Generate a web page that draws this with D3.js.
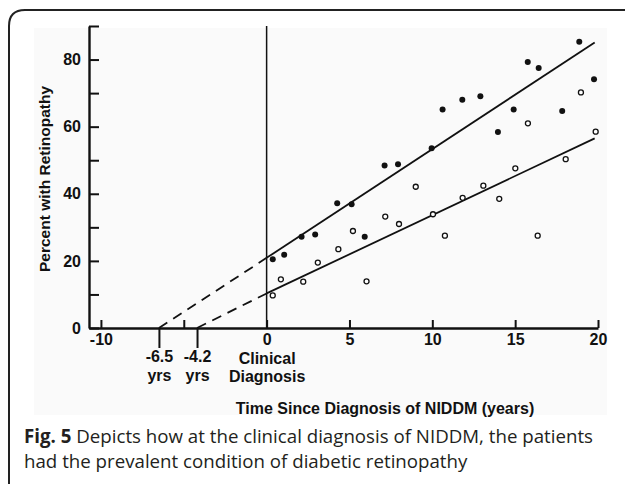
<!DOCTYPE html>
<html>
<head>
<meta charset="utf-8">
<script src="https://cdn.jsdelivr.net/npm/d3@7"></script>
<style>
  body { margin: 0; background: #fff; }
  svg { display: block; }
  .axis text, .title { font-family: "Liberation Sans", Arial, sans-serif; font-weight: bold; font-size: 16px; fill: #111; }
  .axis path, .axis line { stroke: #111; }
  .caption { font-family: "Open Sans", "Noto Sans", sans-serif; font-size: 18.7px; fill: #231f20; }
</style>
</head>
<body>
<div id="chart"></div>
<script>
// years since diagnosis / percent with retinopathy
const filledYears = [0.37, 1.06, 2.11, 2.93, 4.26, 5.13, 5.92, 7.12, 7.93, 9.96,
  10.62, 11.81, 12.90, 13.96, 14.91, 15.76, 16.42, 17.84, 18.87, 19.76];
const filledPct = [20.5, 21.8, 27.2, 27.9, 37.2, 36.9, 27.2, 48.4, 48.8, 53.6,
  65.1, 68.0, 69.1, 58.4, 65.1, 79.3, 77.5, 64.7, 85.3, 74.1];

const openYears = [0.37, 0.86, 2.21, 3.09, 4.33, 5.21, 6.03, 7.16, 7.99, 9.0, 10.04,
  10.76, 11.83, 13.08, 14.04, 15.01, 15.77, 16.36, 18.05, 18.97, 19.86];
const openPct = [9.7, 14.5, 13.8, 19.5, 23.5, 28.9, 13.9, 33.2, 31.0, 42.1, 33.9,
  27.5, 38.8, 42.4, 38.5, 47.6, 61.0, 27.5, 50.3, 70.2, 58.5];

// fitted lines: value at diagnosis (year 0) and at year ~19.8
const fitYears = [0, 19.8];
const filledFit = [20.9, 85.1];
const openFit = [10.3, 56.5];

// extrapolated onset (percent = 0)
const onsetYears = [-6.5, -4.2];
const onsetLabels = ["-6.5", "-4.2"];

const xTicks = [-10, -5, 0, 5, 10, 15, 20];
const yTicks = [0, 10, 20, 30, 40, 50, 60, 70, 80, 90];

const width = 625, height = 484;

const svg = d3.select("#chart").append("svg")
  .attr("width", width)
  .attr("height", height);

// card frame (cropped on the right and bottom)
svg.append("path")
  .attr("d", "M9,486 V26 Q9,10 25,10 H627")
  .attr("fill", "none")
  .attr("stroke", "#222")
  .attr("stroke-width", 2);

// faint background of the scanned figure
svg.append("rect")
  .attr("x", 34).attr("y", 28)
  .attr("width", 573).attr("height", 387)
  .attr("fill", "#fafafa");

const x = d3.scaleLinear().domain([-10.72, 20]).range([89, 598]);
const y = d3.scaleLinear().domain([0, 90]).range([328, 26]);

// y axis, ticks pointing inward
svg.append("g")
  .attr("class", "axis")
  .attr("transform", `translate(${x(-10.72)},0)`)
  .call(d3.axisLeft(y)
    .tickValues(yTicks)
    .tickSizeInner(-10)
    .tickSizeOuter(0)
    .tickPadding(8)
    .tickFormat(d => (d % 20 === 0 && d < 90) ? d : ""))
  .call(g => g.select(".domain").attr("stroke-width", 2.4))
  .call(g => g.selectAll(".tick line").attr("stroke-width", 2));

// x axis, ticks pointing up
const xAxis = svg.append("g")
  .attr("class", "axis")
  .attr("transform", `translate(0,${y(0)})`)
  .call(d3.axisBottom(x)
    .tickValues(xTicks)
    .tickSizeInner(-8)
    .tickSizeOuter(0)
    .tickPadding(6)
    .tickFormat(d => d === -5 ? "" : d))
  .call(g => g.select(".domain").attr("stroke-width", 2.4))
  .call(g => g.selectAll(".tick line").attr("stroke-width", 2));

// "Clinical Diagnosis" under the zero label
xAxis.selectAll(".tick text")
  .filter(d => d === 0)
  .call(t => {
    t.append("tspan").attr("x", 0).attr("dy", "1.15em").text("Clinical");
    t.append("tspan").attr("x", 0).attr("dy", "1.15em").text("Diagnosis");
  });

// onset ticks pointing down, with "yrs"
svg.append("g")
  .attr("class", "axis")
  .attr("transform", `translate(0,${y(0)})`)
  .call(d3.axisBottom(x)
    .tickValues(onsetYears)
    .tickSizeInner(20)
    .tickSizeOuter(0)
    .tickPadding(3)
    .tickFormat((d, i) => onsetLabels[i]))
  .call(g => g.select(".domain").remove())
  .call(g => g.selectAll(".tick line").attr("stroke-width", 2))
  .call(g => g.selectAll(".tick text")
    .append("tspan").attr("x", 0).attr("dy", "1.15em").text("yrs"));

// vertical line at diagnosis
svg.append("line")
  .attr("x1", x(0)).attr("x2", x(0))
  .attr("y1", y(90)).attr("y2", y(0))
  .attr("stroke", "#111")
  .attr("stroke-width", 1.5);

// axis titles
svg.append("text")
  .attr("class", "title")
  .attr("transform", `translate(50,${(y(0) + y(90)) / 2 + 2}) rotate(-90)`)
  .attr("text-anchor", "middle")
  .style("font-size", "15.5px")
  .text("Percent with Retinopathy");

svg.append("text")
  .attr("class", "title")
  .attr("x", 385)
  .attr("y", 414)
  .attr("text-anchor", "middle")
  .text("Time Since Diagnosis of NIDDM (years)");

// fitted lines
const line = d3.line().x(d => x(d[0])).y(d => y(d[1]));

[filledFit, openFit].forEach((fit, i) => {
  svg.append("path")
    .attr("d", line([[fitYears[0], fit[0]], [fitYears[1], fit[1]]]))
    .attr("fill", "none")
    .attr("stroke", "#111")
    .attr("stroke-width", 1.8);
  // dashed extrapolation back to onset
  svg.append("path")
    .attr("d", line([[onsetYears[i], 0], [fitYears[0], fit[0]]]))
    .attr("fill", "none")
    .attr("stroke", "#111")
    .attr("stroke-width", 1.8)
    .attr("stroke-dasharray", "10,7");
});

// points
svg.append("g").selectAll("circle")
  .data(d3.zip(filledYears, filledPct))
  .join("circle")
  .attr("cx", d => x(d[0]))
  .attr("cy", d => y(d[1]))
  .attr("r", 3)
  .attr("fill", "#111");

svg.append("g").selectAll("circle")
  .data(d3.zip(openYears, openPct))
  .join("circle")
  .attr("cx", d => x(d[0]))
  .attr("cy", d => y(d[1]))
  .attr("r", 2.5)
  .attr("fill", "#fff")
  .attr("stroke", "#111")
  .attr("stroke-width", 1.3);

// caption
const cap = svg.append("text")
  .attr("class", "caption")
  .attr("x", 24)
  .attr("y", 443);
cap.append("tspan").style("font-weight", "bold").text("Fig. 5");
cap.append("tspan").text(" Depicts how at the clinical diagnosis of NIDDM, the patients");
svg.append("text")
  .attr("class", "caption")
  .attr("x", 24)
  .attr("y", 468)
  .text("had the prevalent condition of diabetic retinopathy");
</script>
</body>
</html>
